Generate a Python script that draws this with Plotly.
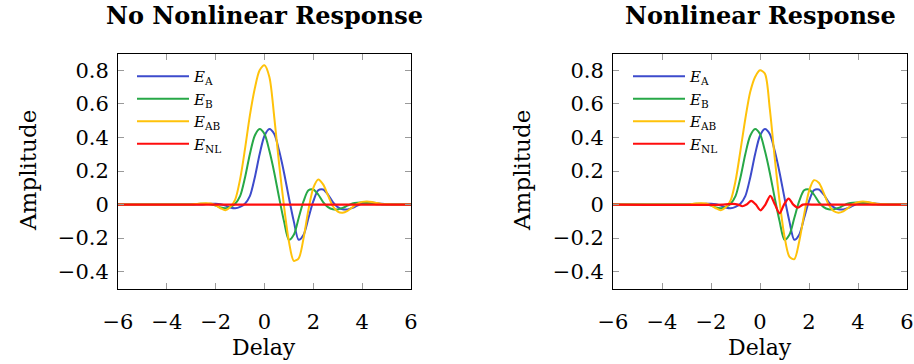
import plotly.graph_objects as go

# ---------------- data ----------------
delay = [-6.0, -3.0, -2.8, -2.6, -2.4, -2.2, -2.0, -1.8, -1.6, -1.4, -1.2,
         -1.0, -0.8, -0.6, -0.4, -0.2, 0.0, 0.2, 0.4, 0.6, 0.8,
         1.0, 1.2, 1.4, 1.6, 1.8, 2.0, 2.2, 2.4, 2.6, 2.8,
         3.0, 3.2, 3.4, 3.6, 3.8, 4.0, 4.2, 4.4, 4.6, 4.8,
         5.0, 5.2, 5.4, 6.0]

e_a = [0.0, 0.0, 0.0, 0.001, 0.003, 0.005, 0.005, 0.002, -0.006, -0.017, -0.022,
       -0.014, 0.005, 0.05, 0.16, 0.30, 0.41, 0.45, 0.42, 0.32, 0.19,
       0.04, -0.10, -0.21, -0.18, -0.08, 0.02, 0.085, 0.09, 0.06, 0.015,
       -0.015, -0.028, -0.029, -0.02, -0.006, 0.006, 0.011, 0.012, 0.009, 0.005,
       0.002, 0.001, 0.0, 0.0]

e_b = [0.0, 0.001, 0.003, 0.005, 0.005, 0.002, -0.006, -0.017, -0.022, -0.014, 0.005,
       0.05, 0.16, 0.30, 0.41, 0.45, 0.42, 0.32, 0.19, 0.04, -0.10,
       -0.21, -0.18, -0.08, 0.02, 0.085, 0.09, 0.06, 0.015, -0.015, -0.028,
       -0.029, -0.02, -0.006, 0.006, 0.011, 0.012, 0.009, 0.005, 0.002, 0.001,
       0.0, 0.0, 0.0, 0.0]

e_ab_linear = [0.0, 0.001, 0.003, 0.006, 0.008, 0.006, -0.004, -0.022, -0.034, -0.014, 0.03,
               0.15, 0.33, 0.53, 0.69, 0.80, 0.83, 0.76, 0.52, 0.24, -0.01,
               -0.22, -0.335, -0.32, -0.20, -0.03, 0.10, 0.15, 0.12, 0.055, -0.01,
               -0.042, -0.048, -0.037, -0.016, 0.004, 0.016, 0.018, 0.015, 0.009, 0.004,
               0.002, 0.001, 0.0, 0.0]

e_ab_nonlinear = [0.0, 0.001, 0.003, 0.006, 0.008, 0.006, -0.004, -0.022, -0.034, -0.016, 0.025,
                  0.14, 0.32, 0.51, 0.67, 0.76, 0.80, 0.78, 0.57, 0.28, 0.02,
                  -0.19, -0.31, -0.325, -0.22, -0.06, 0.08, 0.145, 0.13, 0.07, 0.0,
                  -0.038, -0.048, -0.04, -0.02, 0.002, 0.014, 0.018, 0.015, 0.009, 0.004,
                  0.002, 0.001, 0.0, 0.0]

nl_flat_delay = [-6.0, 6.0]
nl_flat = [0.0, 0.0]

nl_delay = [-6.0, -1.5, -1.1, -0.9, -0.72, -0.55, -0.36, -0.17, 0.02, 0.22,
            0.42, 0.61, 0.8, 0.98, 1.17, 1.36, 1.55, 1.75, 2.1, 6.0]
nl_values = [0.0, 0.0, 0.004, 0.0, -0.01, 0.0, 0.022, 0.0, -0.034, 0.0,
             0.052, 0.0, -0.052, 0.0, 0.036, 0.0, -0.018, 0.0, 0.0, 0.0]

x_ticks = [-6, -4, -2, 0, 2, 4, 6]
x_tick_labels = ["\u22126", "\u22124", "\u22122", "0", "2", "4", "6"]
y_ticks = [-0.4, -0.2, 0, 0.2, 0.4, 0.6, 0.8]
y_tick_labels = ["\u22120.4", "\u22120.2", "0", "0.2", "0.4", "0.6", "0.8"]

titles = ["No Nonlinear Response", "Nonlinear Response"]
names = ["<i>E</i><sub>A</sub>", "<i>E</i><sub>B</sub>",
         "<i>E</i><sub>AB</sub>", "<i>E</i><sub>NL</sub>"]
colors = ["#3d4bcc", "#27a847", "#ffc20a", "#ff0d0d"]

# ---------------- figure ----------------
W, H = 914, 364
FONT = "DejaVu Serif"


def px(x):
    return x / W


def py(y):
    return 1 - y / H


fig = go.Figure()

panels = [
    ("x", "y", "legend", [(delay, e_a), (delay, e_b), (delay, e_ab_linear), (nl_flat_delay, nl_flat)]),
    ("x2", "y2", "legend2", [(delay, e_a), (delay, e_b), (delay, e_ab_nonlinear), (nl_delay, nl_values)]),
]
for xa, ya, leg, series in panels:
    for i, (xs, ys) in enumerate(series):
        fig.add_trace(go.Scatter(
            x=xs, y=ys, mode="lines", name=names[i],
            line=dict(color=colors[i], width=2.2 if i == 3 else 2, shape="spline", smoothing=0.8),
            xaxis=xa, yaxis=ya, legend=leg,
            hoverinfo="skip",
        ))

xdom1 = [px(118), px(411)]
xdom2 = [px(613), px(907)]
ydom = [py(288.5), py(53.5)]

axis_common = dict(
    showline=True, linecolor="black", linewidth=1, mirror="ticks",
    ticks="inside", ticklen=6, tickwidth=1, tickcolor="#9a9a9a",
    showgrid=False, zeroline=False, automargin=False,
    tickfont=dict(family=FONT, size=21, color="black"),
)

leg_common = dict(xanchor="left", yanchor="top", bgcolor="rgba(0,0,0,0)", borderwidth=0,
                  itemwidth=52, tracegroupgap=0, font=dict(family=FONT, size=15, color="black"))

fig.update_layout(
    width=W, height=H,
    margin=dict(l=0, r=0, t=0, b=0, autoexpand=False),
    paper_bgcolor="white", plot_bgcolor="white",
    xaxis=dict(domain=xdom1, range=[-6, 6], tickvals=x_ticks, ticktext=x_tick_labels,
               anchor="y", ticklabelstandoff=14, **axis_common),
    yaxis=dict(domain=ydom, range=[-0.5, 0.9], tickvals=y_ticks, ticktext=y_tick_labels,
               anchor="x", ticklabelstandoff=4, **axis_common),
    xaxis2=dict(domain=xdom2, range=[-6, 6], tickvals=x_ticks, ticktext=x_tick_labels,
                anchor="y2", ticklabelstandoff=14, **axis_common),
    yaxis2=dict(domain=ydom, range=[-0.5, 0.9], tickvals=y_ticks, ticktext=y_tick_labels,
                anchor="x2", ticklabelstandoff=4, **axis_common),
    showlegend=True,
    legend=dict(x=px(132), y=py(60), **leg_common),
    legend2=dict(x=px(628), y=py(60), **leg_common),
)

annotations = []
for k, (xd, title) in enumerate(zip([xdom1, xdom2], titles)):
    cx = (xd[0] + xd[1]) / 2
    annotations.append(dict(text="<b>" + title + "</b>", x=cx, y=py(16), xref="paper", yref="paper",
                            xanchor="center", yanchor="middle", showarrow=False,
                            font=dict(family=FONT, size=24, color="black")))
    annotations.append(dict(text="Delay", x=cx, y=py(347), xref="paper", yref="paper",
                            xanchor="center", yanchor="middle", showarrow=False,
                            font=dict(family=FONT, size=22, color="black")))
    annotations.append(dict(text="Amplitude", x=px(28 if k == 0 else 522), y=py(171),
                            xref="paper", yref="paper", xanchor="center", yanchor="middle",
                            textangle=-90, showarrow=False,
                            font=dict(family=FONT, size=23, color="black")))
fig.update_layout(annotations=annotations)

fig.write_html("out.html", config={"displayModeBar": False},
               post_script="document.body.style.margin='0px';")
